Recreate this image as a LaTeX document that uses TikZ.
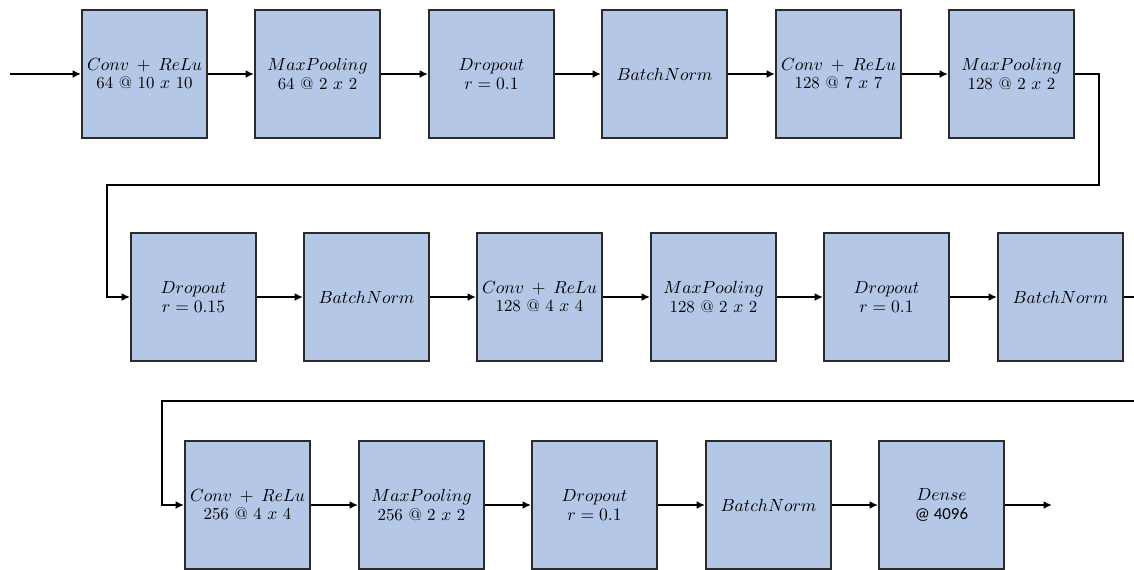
\documentclass[tikz,border=0pt]{standalone}
\usepackage{amsmath}
\usepackage{fontspec}
\newfontfamily\carlito{Carlito}
\usepackage{tikz}
\usetikzlibrary{arrows.meta}

\definecolor{layerblue}{HTML}{B4C7E7}
\definecolor{layerline}{HTML}{2B2B2B}

\begin{document}
\begin{tikzpicture}[
  layer/.style={draw=layerline, fill=layerblue, line width=1.1pt,
    minimum width=2.5cm, minimum height=2.56cm, align=center,
    inner sep=0pt, font=\fontsize{9.6}{10.4}\selectfont},
  flow/.style={line width=1.1pt, -{Latex[length=1.7mm,width=1.6mm]}}
]
\useasboundingbox (0,0) rectangle (22.68,-11.4);
% first row
\node[layer] (cr1) at (2.89,-1.48)  {$Conv\:+\:ReLu$\\64 @ 10 $x$ 10};
\node[layer] (mp1) at (6.35,-1.48)  {$MaxPooling$\\64 @ 2 $x$ 2};
\node[layer] (do1) at (9.83,-1.48)  {$Dropout$\\$r = 0.1$};
\node[layer] (bn1) at (13.29,-1.48) {$BatchNorm$};
\node[layer] (cr2) at (16.77,-1.48) {$Conv\:+\:ReLu$\\128 @ 7 $x$ 7};
\node[layer] (mp2) at (20.23,-1.48) {$MaxPooling$\\128 @ 2 $x$ 2};
% second row
\node[layer] (do2) at (3.87,-5.94)  {$Dropout$\\$r = 0.15$};
\node[layer] (bn2) at (7.33,-5.94)  {$BatchNorm$};
\node[layer] (cr3) at (10.79,-5.94) {$Conv\:+\:ReLu$\\128 @ 4 $x$ 4};
\node[layer] (mp3) at (14.27,-5.94) {$MaxPooling$\\128 @ 2 $x$ 2};
\node[layer] (do3) at (17.73,-5.94) {$Dropout$\\$r = 0.1$};
\node[layer] (bn3) at (21.21,-5.94) {$BatchNorm$};
% third row
\node[layer] (cr4) at (4.95,-10.10)  {$Conv\:+\:ReLu$\\256 @ 4 $x$ 4};
\node[layer] (mp4) at (8.43,-10.10)  {$MaxPooling$\\256 @ 2 $x$ 2};
\node[layer] (do4) at (11.89,-10.10) {$Dropout$\\$r = 0.1$};
\node[layer] (bn4) at (15.37,-10.10) {$BatchNorm$};
\node[layer] (de)  at (18.83,-10.10) {$Dense$\\{\carlito @ 4096}};

\coordinate (in)   at (0.2,-1.48);
\coordinate (out)  at (21.04,-10.10);
\coordinate (cut1) at (22.68,-5.94);
\coordinate (cut2) at (22.68,-8.02);

\draw[flow] (in) -- (cr1);
\draw[flow] (cr1) -- (mp1);
\draw[flow] (mp1) -- (do1);
\draw[flow] (do1) -- (bn1);
\draw[flow] (bn1) -- (cr2);
\draw[flow] (cr2) -- (mp2);
\draw[flow] (mp2.east) -- ++(0.48,0) |- (2.14,-3.70) |- (do2.west);
\draw[flow] (do2) -- (bn2);
\draw[flow] (bn2) -- (cr3);
\draw[flow] (cr3) -- (mp3);
\draw[flow] (mp3) -- (do3);
\draw[flow] (do3) -- (bn3);
\draw[line width=1.1pt] (bn3.east) -- (cut1);
\draw[flow] (cut2) -| (3.24,-10.10) -- (cr4.west);
\draw[flow] (cr4) -- (mp4);
\draw[flow] (mp4) -- (do4);
\draw[flow] (do4) -- (bn4);
\draw[flow] (bn4) -- (de);
\draw[flow] (de) -- (out);
\end{tikzpicture}
\end{document}
